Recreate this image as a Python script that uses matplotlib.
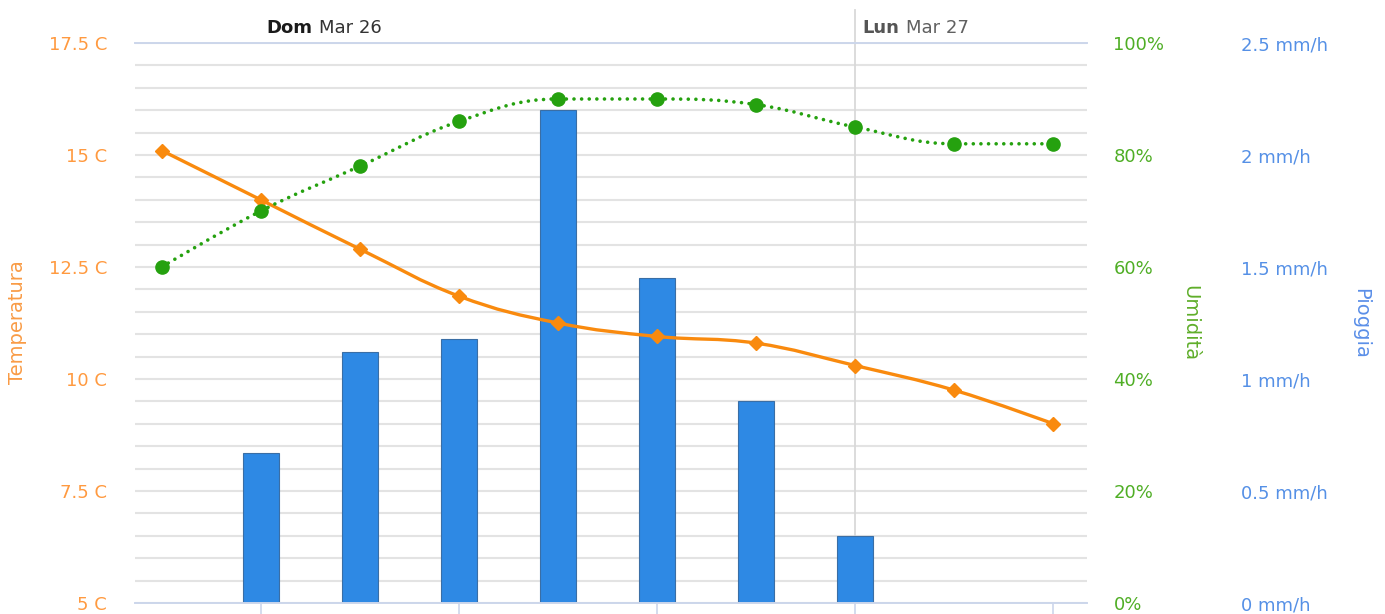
import matplotlib.pyplot as plt
from matplotlib.path import Path
from matplotlib.patches import PathPatch
from matplotlib.transforms import blended_transform_factory

plt.rcParams['font.family'] = ['DejaVu Sans']

# one point every 3 hours, index 7 = midnight of Lun Mar 27
hours = [0, 1, 2, 3, 4, 5, 6, 7, 8, 9]
temperature = [15.1, 14.0, 12.9, 11.85, 11.25, 10.95, 10.8, 10.3, 9.75, 9.0]
humidity = [60, 70, 78, 86, 90, 90, 89, 85, 82, 82]
rain = [0, 0.67, 1.12, 1.18, 2.2, 1.45, 0.9, 0.3, 0, 0]

temp_ticks = [5, 7.5, 10, 12.5, 15, 17.5]
temp_labels = ["5 C", "7.5 C", "10 C", "12.5 C", "15 C", "17.5 C"]
hum_ticks = [0, 20, 40, 60, 80, 100]
hum_labels = ["0%", "20%", "40%", "60%", "80%", "100%"]
rain_ticks = [0, 0.5, 1, 1.5, 2, 2.5]
rain_labels = ["0 mm/h", "0.5 mm/h", "1 mm/h", "1.5 mm/h", "2 mm/h", "2.5 mm/h"]
x_ticks = [1, 3, 5, 7, 9]
day_labels = [("Dom", "Mar 26", 1.06, 1.59), ("Lun", "Mar 27", 7.07, 7.51)]

ORANGE = "#f98a0e"
GREEN = "#25a10f"
BLUE = "#2e89e4"
AXIS = "#ccd6eb"
GRID = "#e3e3e3"


def spline_path(xs, ys, smoothing=1.5):
    """Bezier path through the points, same idea as a Highcharts spline."""
    n = len(xs)
    left = [(x, y) for x, y in zip(xs, ys)]
    right = [(x, y) for x, y in zip(xs, ys)]
    denom = smoothing + 1
    for i in range(1, n - 1):
        x, y = xs[i], ys[i]
        px, py = xs[i - 1], ys[i - 1]
        nx, ny = xs[i + 1], ys[i + 1]
        lcx, lcy = (smoothing * x + px) / denom, (smoothing * y + py) / denom
        rcx, rcy = (smoothing * x + nx) / denom, (smoothing * y + ny) / denom
        corr = (rcy - lcy) * (rcx - x) / (rcx - lcx) + y - rcy
        lcy += corr
        rcy += corr
        if lcy > max(py, y):
            lcy = max(py, y); rcy = 2 * y - lcy
        elif lcy < min(py, y):
            lcy = min(py, y); rcy = 2 * y - lcy
        if rcy > max(ny, y):
            rcy = max(ny, y); lcy = 2 * y - rcy
        elif rcy < min(ny, y):
            rcy = min(ny, y); lcy = 2 * y - rcy
        left[i] = (lcx, lcy)
        right[i] = (rcx, rcy)
    verts = [(xs[0], ys[0])]
    codes = [Path.MOVETO]
    for i in range(1, n):
        verts += [right[i - 1], left[i], (xs[i], ys[i])]
        codes += [Path.CURVE4] * 3
    return Path(verts, codes)


fig = plt.figure(figsize=(13.85, 6.14), dpi=100)
ax = fig.add_axes([135 / 1385, 11 / 614, 952 / 1385, 560 / 614])

# rain (base axes, drawn first so the bars sit under the lines)
ax.bar(hours, rain, width=0.365, color=BLUE, edgecolor="#3a6ea5", linewidth=0.8, zorder=2)
ax.set_ylim(0, 2.5)
ax.set_xlim(-0.27, 9.34)
ax.set_yticks(rain_ticks, rain_labels)
ax.set_yticks([v / 10 for v in range(26)], minor=True)
ax.grid(axis="y", which="both", color=GRID, linewidth=1.5)
ax.set_axisbelow(True)
ax.set_xticks(x_ticks, [""] * len(x_ticks))
ax.tick_params(axis="x", length=9, width=1.2, color=AXIS, direction="out")
for side in ("left", "right"):
    ax.spines[side].set_visible(False)
ax.spines["bottom"].set_color(AXIS)
ax.spines["top"].set_color(AXIS)
ax.spines["bottom"].set_linewidth(1.4)
ax.spines["top"].set_linewidth(1.4)

trans = blended_transform_factory(ax.transData, ax.transAxes)
ax.plot([7, 7], [0, 1.059], transform=trans, color="#d9d9d9", linewidth=1.3, clip_on=False, zorder=1)
for bold, rest, xb, xr in day_labels:
    ax.text(xb, 1.027, bold, transform=trans, fontsize=13, fontweight="bold",
            color="#1a1a1a" if bold == "Dom" else "#555555", va="center", ha="left")
    ax.text(xr, 1.027, rest, transform=trans, fontsize=13,
            color="#333333" if bold == "Dom" else "#606060", va="center", ha="left")

# temperature
ax_t = ax.twinx()
ax_t.set_ylim(5, 17.5)
ax_t.add_patch(PathPatch(spline_path(hours, temperature), fill=False, edgecolor=ORANGE,
                         linewidth=2.4, capstyle="round"))
ax_t.plot(hours, temperature, linestyle="none", marker="D", markersize=7, color=ORANGE)
ax_t.yaxis.tick_left()
ax_t.set_yticks(temp_ticks, temp_labels)
ax_t.tick_params(axis="y", length=0, pad=20, labelsize=13, labelcolor="#ff9a40")
for s in ax_t.spines.values():
    s.set_visible(False)

# humidity
ax_h = ax.twinx()
ax_h.set_ylim(0, 100)
ax_h.add_patch(PathPatch(spline_path(hours, humidity), fill=False, edgecolor=GREEN,
                         linewidth=2.6, linestyle=(0, (0.01, 2.1)), capstyle="round"))
ax_h.plot(hours, humidity, linestyle="none", marker="o", markersize=9.5, color=GREEN)
ax_h.set_yticks(hum_ticks, hum_labels)
ax_h.tick_params(axis="y", length=0, pad=19, labelsize=13, labelcolor="#4fae25")
for s in ax_h.spines.values():
    s.set_visible(False)

# twinx moves the base ticks to the left, put the rain scale back on the right
ax.yaxis.tick_right()
ax.tick_params(axis="y", which="both", left=False, right=False, length=0, pad=111,
               labelsize=13, labelcolor="#5590e6")

fig.text(18 / 1385, 1 - 322 / 614, "Temperatura", rotation=90, color="#f99b45",
         fontsize=14, ha="center", va="center")
fig.text(1190 / 1385, 1 - 323 / 614, "Umidità", rotation=270, color="#5fae2a",
         fontsize=14, ha="center", va="center")
fig.text(1361 / 1385, 1 - 323 / 614, "Pioggia", rotation=270, color="#5b8fe8",
         fontsize=14, ha="center", va="center")

fig.savefig("out.png", dpi=100)
